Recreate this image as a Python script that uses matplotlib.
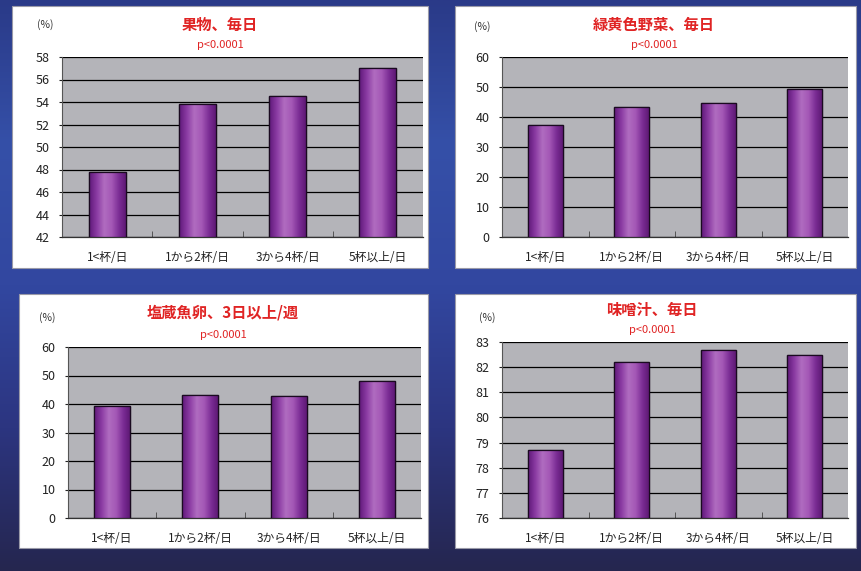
import numpy as np
import matplotlib
matplotlib.use('Agg')
import matplotlib.pyplot as plt
from matplotlib.colors import LinearSegmentedColormap
from matplotlib.patches import Rectangle
from matplotlib.ticker import FixedLocator

plt.rcParams['font.family'] = ['Noto Sans CJK JP', 'DejaVu Sans']

categories = ['1<杯/日', '1から2杯/日', '3から4杯/日', '5杯以上/日']
fruit = [47.8, 53.8, 54.5, 57.0]
vegetables = [37.3, 43.3, 44.8, 49.3]
salted_roe = [39.4, 43.3, 42.9, 48.1]
miso_soup = [78.7, 82.2, 82.7, 82.5]
series = [fruit, vegetables, salted_roe, miso_soup]
titles = ['果物、毎日', '緑黄色野菜、毎日', '塩蔵魚卵、3日以上/週', '味噌汁、毎日']
subtitle = 'p<0.0001'
unit_label = '(%)'
y_ranges = [(42, 58, 2), (0, 60, 10), (0, 60, 10), (76, 83, 1)]

W, H = 861, 571
fig = plt.figure(figsize=(W / 100, H / 100), dpi=100)

# background gradient
bg = fig.add_axes([0, 0, 1, 1], zorder=-10)
bg_cmap = LinearSegmentedColormap.from_list(
    'bg', ['#2a3a88', '#3550a8', '#3247a0', '#2c3580', '#25264f'])
grad = np.linspace(0, 1, 256).reshape(-1, 1)
bg.imshow(grad, aspect='auto', cmap=bg_cmap, extent=(0, 1, 0, 1))
bg.set_axis_off()

def fx(px):
    return px / W

def fy(py):
    return 1 - py / H

boxes = [(12, 6, 428, 268), (455, 6, 856, 268), (19, 294, 428, 548), (455, 294, 856, 548)]
plots = [(62, 57, 423, 237), (502, 57, 848, 237), (68, 347, 421, 518), (502, 342, 848, 518)]
title_pos = [(220, 25), (654, 25), (223, 313), (652, 310)]
sub_pos = [(220, 45), (654, 45), (223, 335), (652, 330)]
unit_pos = [(45, 25), (482, 27), (47, 318), (487, 318)]

bar_cmap = LinearSegmentedColormap.from_list(
    'bar', ['#5e1878', '#8a3aa2', '#b06cc0', '#a458b6', '#7a2c94', '#5a1670'])
bar_grad = np.linspace(0, 1, 128).reshape(1, -1)

for i in range(4):
    x0, y0, x1, y1 = boxes[i]
    fig.patches.append(Rectangle((fx(x0), fy(y1)), fx(x1) - fx(x0), fy(y0) - fy(y1),
                                 transform=fig.transFigure, facecolor='white',
                                 edgecolor='#9a9aa8', linewidth=0.8, zorder=-5))
    px0, py0, px1, py1 = plots[i]
    ax = fig.add_axes([fx(px0), fy(py1), fx(px1) - fx(px0), fy(py0) - fy(py1)])
    ax.set_facecolor('#b4b4b9')
    lo, hi, step = y_ranges[i]
    xpos = np.arange(len(categories))
    bars = ax.bar(xpos, np.array(series[i]) - lo, bottom=lo, width=0.41,
                  color='#9a48ae', edgecolor='#1a0a20', linewidth=0.9, zorder=3)
    for b in bars:
        bx, by = b.get_x(), b.get_y()
        im = ax.imshow(bar_grad, aspect='auto', cmap=bar_cmap,
                       extent=(bx, bx + b.get_width(), by, by + b.get_height()),
                       zorder=3.5, interpolation='bilinear')
        im.set_clip_path(b)
        outline = Rectangle((bx, by), b.get_width(), b.get_height(), fill=False,
                            edgecolor='#1a0a20', linewidth=0.9, zorder=4)
        ax.add_patch(outline)
    ax.set_xlim(-0.5, len(categories) - 0.5)
    ax.set_ylim(lo, hi)
    ax.set_yticks(np.arange(lo, hi + step / 2, step))
    ax.yaxis.grid(True, color='black', linewidth=0.9)
    ax.set_axisbelow(True)
    ax.set_xticks(xpos)
    ax.set_xticklabels(categories, fontsize=8.5, color='#222222')
    ax.tick_params(axis='x', which='major', length=0, pad=10)
    ax.xaxis.set_minor_locator(FixedLocator([0.5, 1.5, 2.5]))
    ax.tick_params(axis='x', which='minor', length=4, direction='in', color='#444444')
    ax.tick_params(axis='y', length=2, pad=7, labelsize=9, colors='#222222')
    for s in ['top', 'right']:
        ax.spines[s].set_visible(False)
    ax.spines['left'].set_color('#555555')
    ax.spines['bottom'].set_color('#333333')
    ax.spines['left'].set_linewidth(0.8)
    ax.spines['bottom'].set_linewidth(0.9)

    tx, ty = title_pos[i]
    fig.text(fx(tx), fy(ty), titles[i], ha='center', va='center', fontsize=11,
             fontweight='bold', color='#e02424')
    sx, sy = sub_pos[i]
    fig.text(fx(sx), fy(sy), subtitle, ha='center', va='center', fontsize=8,
             color='#e02424')
    ux, uy = unit_pos[i]
    fig.text(fx(ux), fy(uy), unit_label, ha='center', va='center', fontsize=7.5,
             color='#333333')

fig.savefig('out.png', dpi=100)
